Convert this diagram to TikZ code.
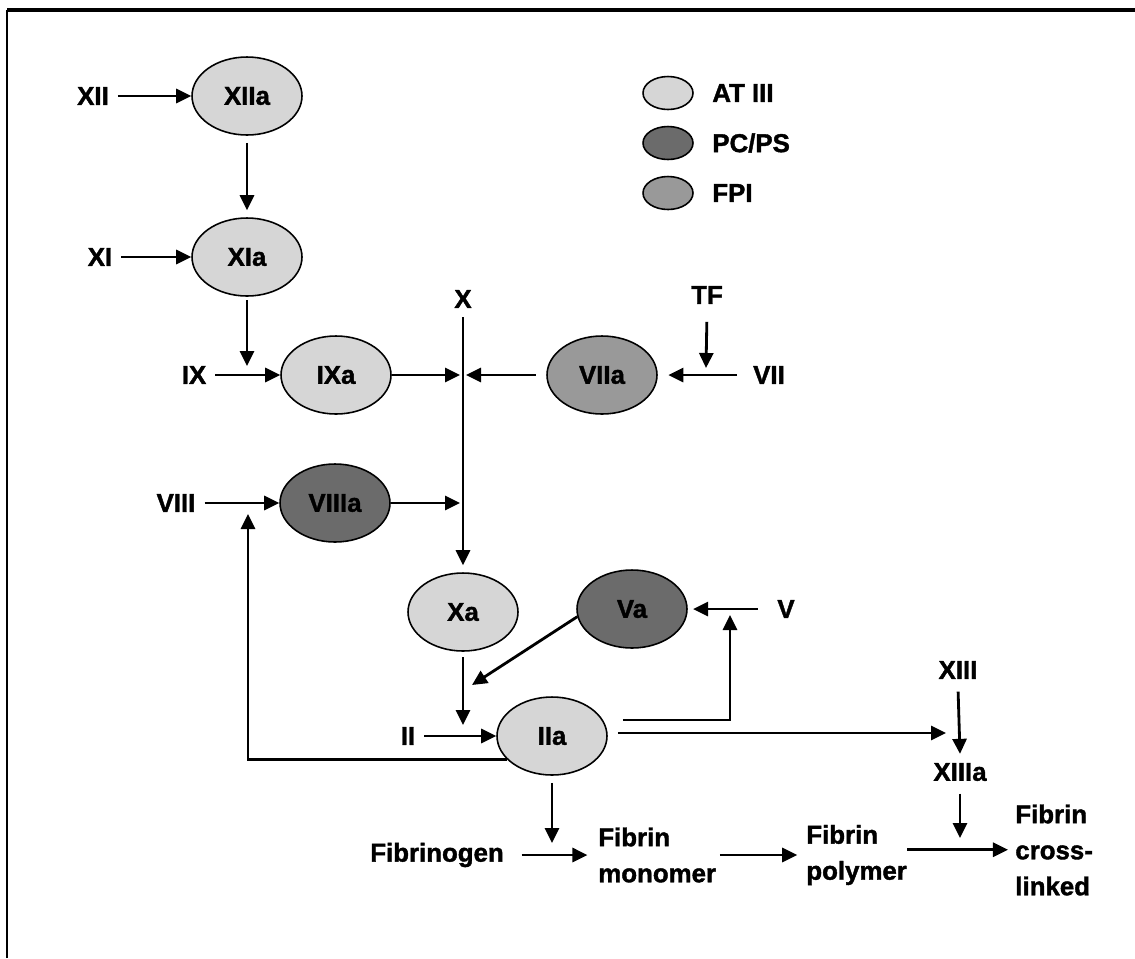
\documentclass[tikz,border=0pt]{standalone}
\usepackage{fontspec}
\setmainfont{Liberation Sans}[BoldFeatures={FakeBold=1.5}]
\usepackage{tikz}
\usetikzlibrary{arrows.meta, positioning, shapes.geometric}
\definecolor{atlight}{RGB}{214,214,214}
\definecolor{pcdark} {RGB}{107,107,107}
\definecolor{fpimid} {RGB}{153,153,153}

\begin{document}
\begin{tikzpicture}[x=0.02cm, y=-0.02cm,
  >={Triangle[length=0.3cm, width=0.28cm]},
  every node/.style={font=\fontsize{14.7}{20.5}\selectfont\bfseries},
  factor/.style={ellipse, draw=black, line width=0.9pt, minimum width=2.2cm, minimum height=1.56cm, inner sep=0pt},
  atfac/.style={factor, fill=atlight},
  pcfac/.style={factor, fill=pcdark},
  fpifac/.style={factor, fill=fpimid},
  keyfac/.style={ellipse, draw=black, line width=0.9pt, minimum width=1cm, minimum height=0.66cm, inner sep=0pt},
  lbl/.style={inner sep=5pt},
  flow/.style={->, line width=1.6pt},
  link/.style={line width=1.6pt}
]
  \useasboundingbox (0,0) rectangle (1135,958);
  % Frame
  \draw[line width=1.2pt] (7,958) -- (7,10);
  \draw[line width=1.8pt] (7,10) -- (1135,10);

  % Legend
  \node[keyfac, fill=atlight] (kAT) at (668,93) {};
  \node[keyfac, fill=pcdark]  (kPC) at (668,143) {};
  \node[keyfac, fill=fpimid]  (kFP) at (668,193) {};
  \node[anchor=west, inner sep=0pt] (tAT) at (712,93) {AT III};
  \node[anchor=west, inner sep=0pt] (tPC) at (712,143) {PC/PS};
  \node[anchor=west, inner sep=0pt] (tFP) at (712,193) {FPI};

  % Factors
  \node[atfac]  (XIIa)  at (247,96)  {XIIa};
  \node[atfac]  (XIa)   at (247,257) {XIa};
  \node[atfac]  (IXa)   at (336,375) {IXa};
  \node[fpifac] (VIIa)  at (602,375) {VIIa};
  \node[pcfac]  (VIIIa) at (335,503) {VIIIa};
  \node[atfac]  (Xa)    at (463,612) {Xa};
  \node[pcfac]  (Va)    at (632,609) {Va};
  \node[atfac]  (IIa)   at (552,736) {IIa};

  % Zymogens
  \node[lbl] (XII)  at (93,96)   {XII};
  \node[lbl] (XI)   at (100,257) {XI};
  \node[lbl] (IX)   at (194,375) {IX};
  \node[lbl] (X)    at (463,299) {X};
  \node[lbl] (TF)   at (707,295) {TF};
  \node[lbl] (VII)  at (769,375) {VII};
  \node[lbl] (VIII) at (176,503) {VIII};
  \node[lbl] (V)    at (786,609) {V};
  \node[lbl] (II)   at (408,736) {II};
  \node[lbl] (XIII) at (958,670) {XIII};
  \node[lbl] (XIIIa) at (960,772) {XIIIa};

  % Fibrin
  \node[inner sep=0pt] (Fbg) at (437,855) {Fibrinogen};
  \node[anchor=west, align=left, inner sep=0pt] (Fmono) at (598,855) {Fibrin\\monomer};
  \node[anchor=west, align=left, inner sep=0pt] (Fpoly) at (806,855) {Fibrin\\polymer};
  \node[anchor=west, align=left, inner sep=0pt] (Fcross) at (1015,850) {Fibrin\\cross-\\linked};

  % Junctions on lines
  \coordinate (jIX)   at (247,366);
  \coordinate (jXl)   at (460,375);
  \coordinate (jXr)   at (466,375);
  \coordinate (jVIIIr) at (460,503);
  \coordinate (jVII)  at (706,368);
  \coordinate (jVIII) at (248,514);
  \coordinate (jII)   at (463,725);
  \coordinate (jVa)   at (472,685);
  \coordinate (jV)    at (730,615);
  \coordinate (jXIII) at (946,733);
  \coordinate (jFbg)  at (552,843);
  \coordinate (jFib)  at (960,838);

  % Intrinsic path
  \draw[flow] (XII.east) -- (XIIa.west);
  \draw[flow, shorten <=4pt, shorten >=4pt] (XIIa.south) -- (XIa.north);
  \draw[flow] (XI.east) -- (XIa.west);
  \draw[flow, shorten <=2pt] (XIa.south) -- (jIX);
  \draw[flow] (IX.east) -- (IXa.west);
  \draw[flow] (IXa.east) -- (jXl);
  \draw[flow] (VIII.east) -- (VIIIa.west);
  \draw[flow] (VIIIa.east) -- (jVIIIr);

  % Extrinsic path
  \draw[flow, shorten <=5pt] (TF.south) -- (jVII);
  \draw[flow, shorten <=4pt, shorten >=6pt] (VII.west) -- (VIIa.east);
  \draw[flow, shorten <=6pt] (VIIa.west) -- (jXr);

  % Common path
  \draw[flow, shorten >=4pt] (X.south) -- (Xa.north);
  \draw[flow, shorten <=3pt] (Xa.south) -- (jII);
  \draw[flow] (Va.188) -- (jVa);
  \draw[flow] (II.east) -- (IIa.west);
  \draw[flow, shorten <=6pt, shorten >=3pt] (V.west) -- (Va.east);

  % Thrombin feedback
  \draw[link, ->] (IIa.208) -| (jVIII);
  \draw[link, ->] ([shift={(15,-16)}]IIa.east) -| (jV);
  \draw[flow] ([shift={(10,-3)}]IIa.east) -- (jXIII);
  \draw[flow, shorten <=4pt] (IIa.south) -- (jFbg);

  % Fibrin formation
  \draw[flow, shorten <=2pt] (XIII.south) -- (XIIIa.north);
  \draw[flow, shorten <=2pt] (XIIIa.south) -- (jFib);
  \draw[flow, shorten <=10pt, shorten >=6pt] (Fbg.east) -- (Fmono.west);
  \draw[flow, shorten <=2pt, shorten >=5pt] (Fmono.east) -- (Fpoly.west);
  \draw[flow, shorten >=4pt] ([yshift=3]Fpoly.east) -- ([yshift=3]Fpoly.east -| Fcross.west);
\end{tikzpicture}
\end{document}
